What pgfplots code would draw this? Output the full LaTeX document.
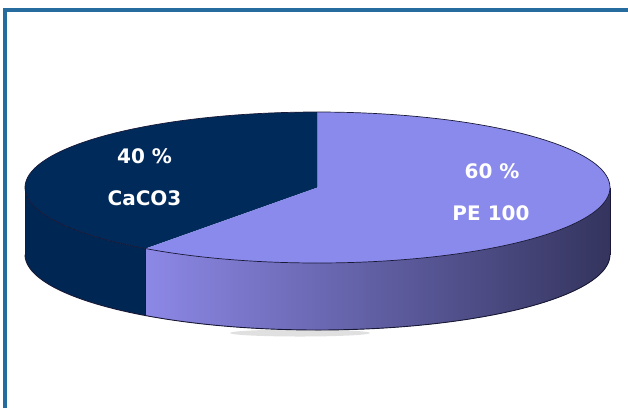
\documentclass[border=0pt]{standalone}
\usepackage{pgfplots}
\usepackage{pgfplotstable}
\usepackage{fontspec}
\pgfplotsset{compat=1.18}
\setmainfont{DejaVu Sans}
\definecolor{frameblue}{RGB}{38,108,158}
\definecolor{darktop}{RGB}{0,42,90}
\definecolor{darkside}{RGB}{0,38,84}
\definecolor{lighttop}{RGB}{138,138,236}
\definecolor{sideL}{RGB}{140,136,230}
\definecolor{sideR}{RGB}{52,52,94}
\definecolor{edge}{RGB}{25,25,55}

\pgfplotstableread{
label value
CaCO3 40
PE100 60
}\piedata

\begin{document}
\begin{tikzpicture}
\pgfplotstablegetelem{0}{value}\of\piedata
\pgfmathsetmacro{\va}{\pgfplotsretval}
\pgfmathsetmacro{\amid}{90+3.6*\va}
\def\cx{317.5}
\def\cy{187.5}
\def\rx{292.5}
\def\ry{75.5}
\def\dep{67}
\begin{axis}[
  width=628pt, height=408pt, scale only axis,
  xmin=0, xmax=628, ymin=0, ymax=408, y dir=reverse,
  hide axis, clip=false,
]
\path[use as bounding box] (0,0) rectangle (628,408);
% frame
\draw[frameblue, line width=3.2pt] (5,408) -- (5,10) -- (628,10);
% faint shadow
\fill[black!12] (300,333) ellipse [x radius=70, y radius=3.5];
% light slice side (front)
\fill[left color=sideL, right color=sideR]
  plot[domain=\amid:360, samples=80, variable=\t] ({\cx+\rx*cos(\t)},{\cy-\ry*sin(\t)})
  -- plot[domain=360:\amid, samples=80, variable=\t] ({\cx+\rx*cos(\t)},{\cy-\ry*sin(\t)+\dep})
  -- cycle;
% dark slice side
\fill[darkside]
  plot[domain=180:\amid, samples=40, variable=\t] ({\cx+\rx*cos(\t)},{\cy-\ry*sin(\t)})
  -- plot[domain=\amid:180, samples=40, variable=\t] ({\cx+\rx*cos(\t)},{\cy-\ry*sin(\t)+\dep})
  -- cycle;
% top slices from data
\addplot[draw=none, fill=darktop, domain=90:\amid, samples=80]
  ({\cx+\rx*cos(x)},{\cy-\ry*sin(x)}) -- (\cx,\cy) -- cycle;
\addplot[draw=none, fill=lighttop, domain=\amid:450, samples=120]
  ({\cx+\rx*cos(x)},{\cy-\ry*sin(x)}) -- (\cx,\cy) -- cycle;
% outlines
\draw[edge, line width=0.7pt]
  plot[domain=0:360, samples=160, variable=\t] ({\cx+\rx*cos(\t)},{\cy-\ry*sin(\t)});
\draw[edge, line width=0.9pt]
  plot[domain=180:360, samples=120, variable=\t] ({\cx+\rx*cos(\t)},{\cy-\ry*sin(\t)+\dep});
\draw[edge, line width=0.6pt] ({\cx+\rx},\cy) -- ({\cx+\rx},{\cy+\dep});
\draw[edge, line width=0.6pt] ({\cx-\rx},\cy) -- ({\cx-\rx},{\cy+\dep});
\draw[edge, line width=0.6pt] ({\cx+\rx*cos(\amid)},{\cy-\ry*sin(\amid)}) -- ({\cx+\rx*cos(\amid)},{\cy-\ry*sin(\amid)+\dep});
% labels
\begin{scope}[every node/.style={text=white, anchor=base, inner sep=0pt, font=\bfseries\fontsize{20}{24}\selectfont}]
\node at (144.5,163) {40 \%};
\node at (144.5,205) {CaCO3};
\node at (492,178) {60 \%};
\node at (491,220) {PE 100};
\end{scope}
\end{axis}
\end{tikzpicture}
\end{document}
